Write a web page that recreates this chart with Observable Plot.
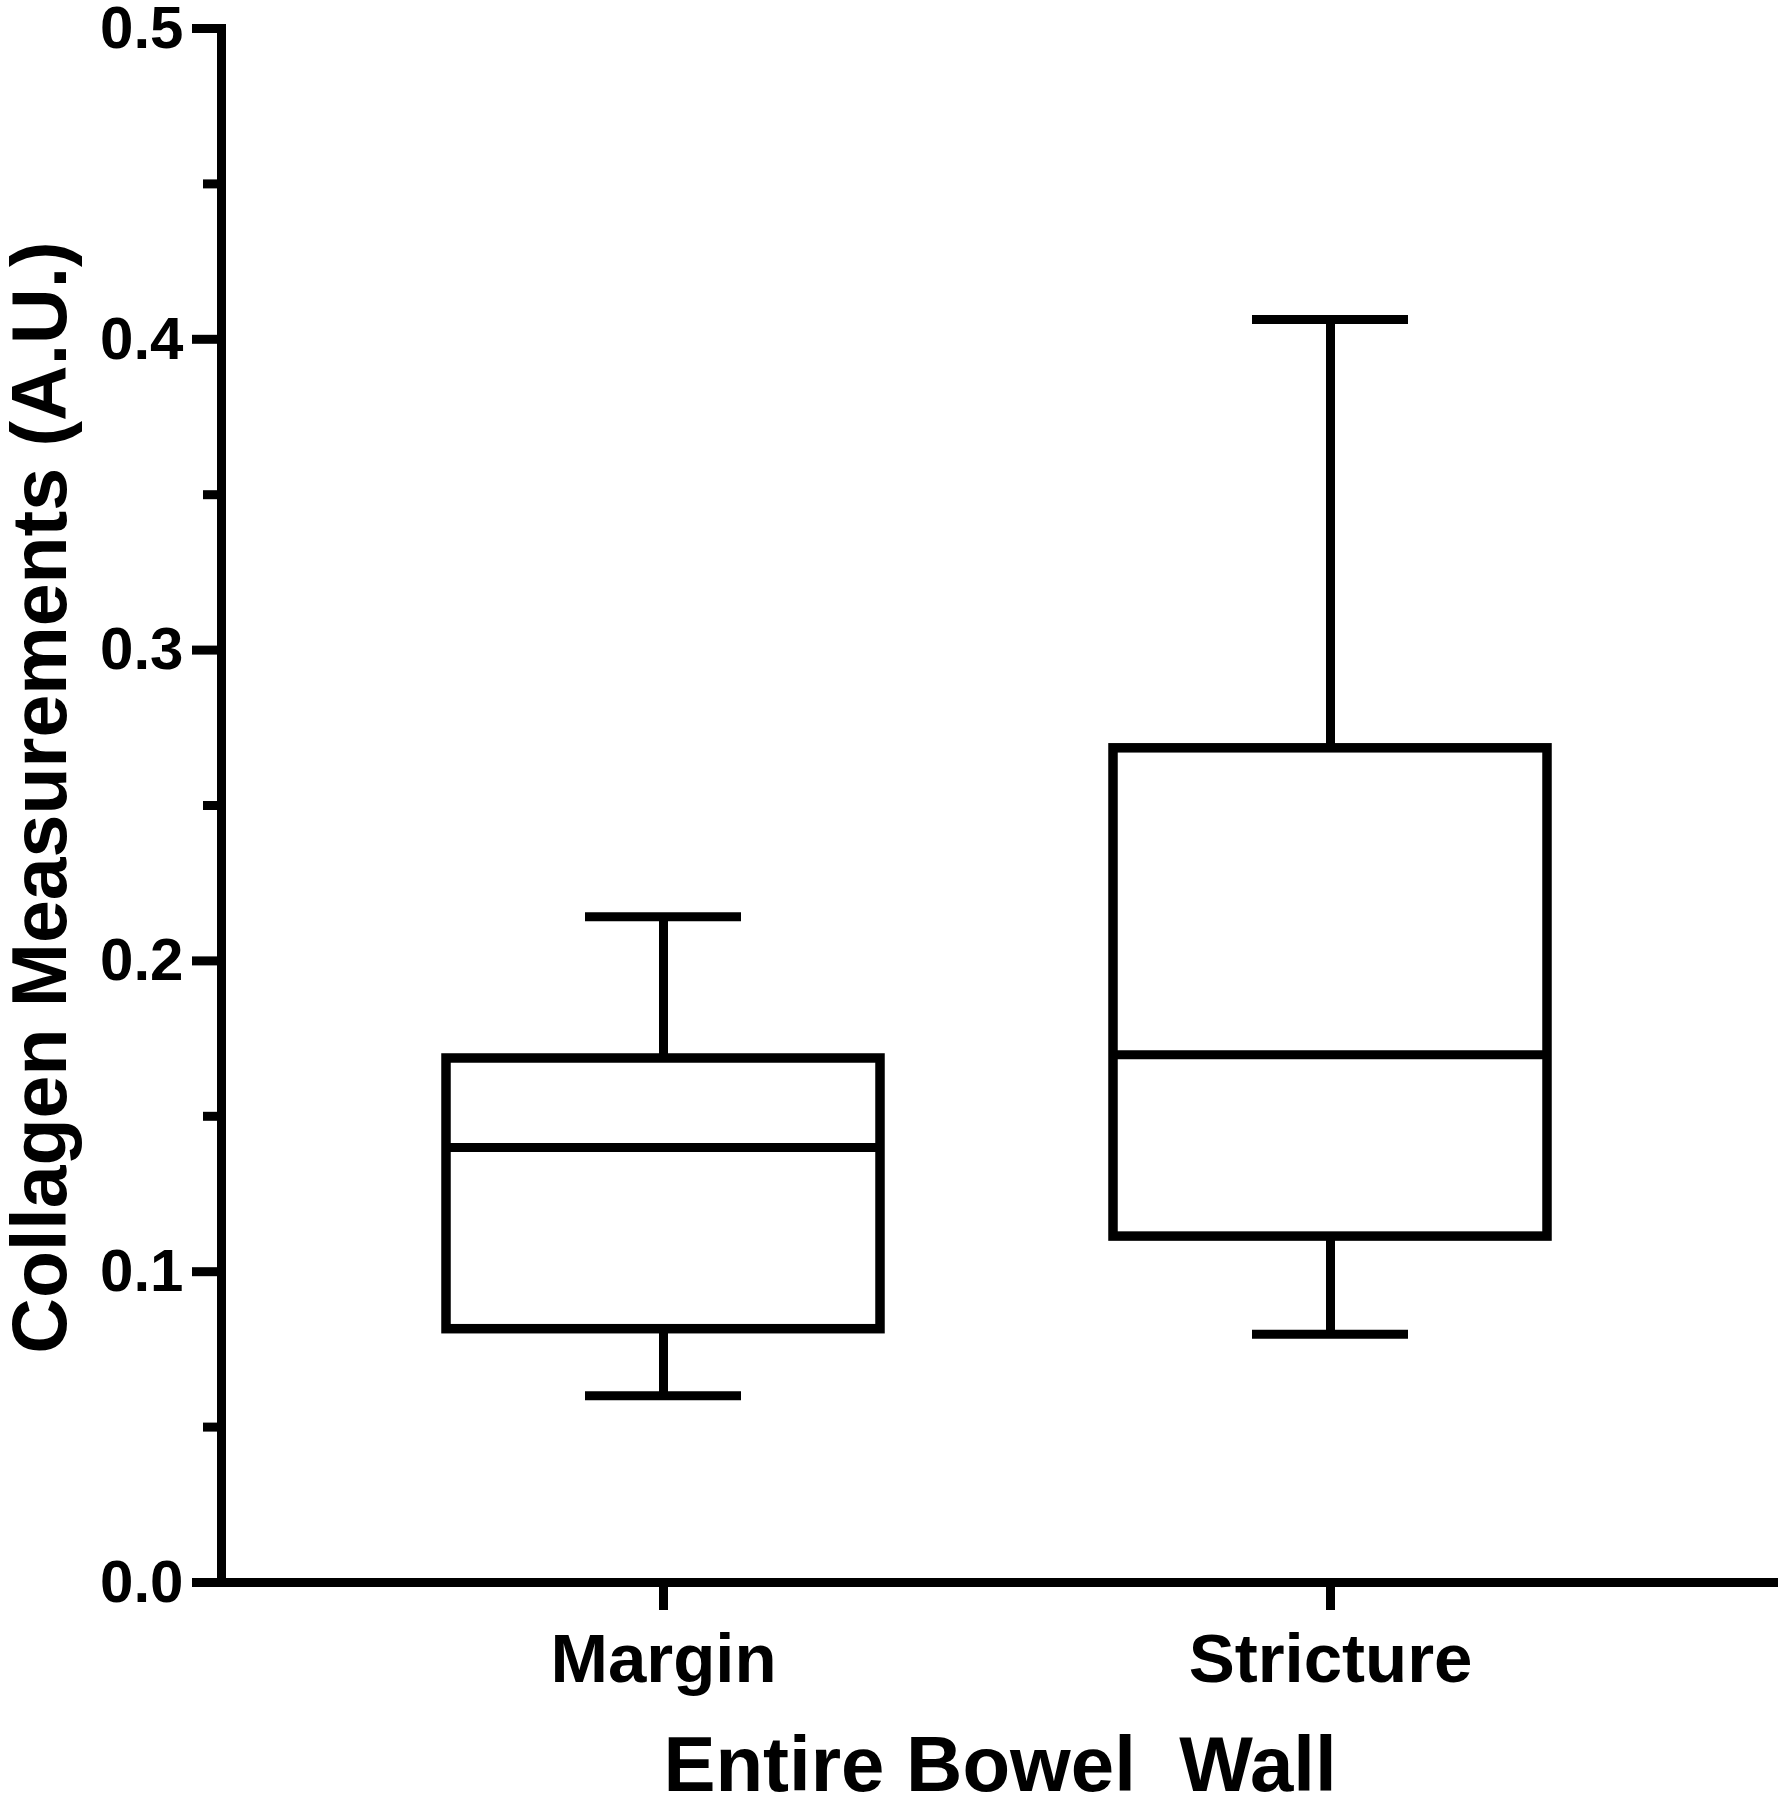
<!DOCTYPE html>
<html><head><meta charset="utf-8">
<script src="https://cdn.jsdelivr.net/npm/d3@7"></script>
<script src="https://cdn.jsdelivr.net/npm/@observablehq/plot@0.6"></script>
<style>body{margin:0;background:#fff}</style>
</head><body><div id="chart"></div>
<script>
const categories = ["Margin", "Stricture"];
const whiskerLow = [0.0601, 0.0799];
const quartile1 = [0.0815, 0.1113];
const medians = [0.1400, 0.1698];
const quartile3 = [0.1686, 0.2684];
const whiskerHigh = [0.2142, 0.4064];
const yTicks = [0, 0.1, 0.2, 0.3, 0.4, 0.5];
const yMinorTicks = [0.05, 0.15, 0.25, 0.35, 0.45];
const yTitle = "Collagen Measurements (A.U.)";
const xTitle = "Entire Bowel\u00a0 Wall";

const rows = categories.map((c, i) => ({group: c, lo: whiskerLow[i], q1: quartile1[i], med: medians[i], q3: quartile3[i], hi: whiskerHigh[i]}));

const SW = 9;
const font = "'Liberation Sans', Arial, Helvetica, sans-serif";
const chart = Plot.plot({
  width: 1786, height: 1800,
  marginLeft: 221, marginRight: 8, marginTop: 28, marginBottom: 218,
  style: {fontFamily: font, fontWeight: "bold", background: "white", color: "black", overflow: "visible"},
  x: {domain: categories, paddingInner: 0.349, paddingOuter: 0.3416, align: 0.494},
  y: {domain: [0, 0.5]},
  marks: [
    Plot.ruleX(rows, {x: "group", y1: "q3", y2: "hi", stroke: "black", strokeWidth: SW}),
    Plot.ruleX(rows, {x: "group", y1: "lo", y2: "q1", stroke: "black", strokeWidth: SW}),
    Plot.tickY(rows, {x: "group", y: "hi", insetLeft: 139, insetRight: 139, stroke: "black", strokeWidth: SW}),
    Plot.tickY(rows, {x: "group", y: "lo", insetLeft: 139, insetRight: 139, stroke: "black", strokeWidth: SW}),
    Plot.barY(rows, {x: "group", y1: "q1", y2: "q3", fill: "white", stroke: "black", strokeWidth: 9.5}),
    Plot.tickY(rows, {x: "group", y: "med", stroke: "black", strokeWidth: SW}),
    Plot.ruleY([0], {stroke: "black", strokeWidth: SW}),
    Plot.frame({anchor: "left", stroke: "black", strokeWidth: SW}),
    Plot.axisY({ticks: yTicks, tickSize: 29, tickPadding: 9, tickFormat: d3.format(".1f"), fontSize: 60, strokeWidth: SW, label: null}),
    Plot.axisY({ticks: yMinorTicks, tickSize: 18, tickFormat: () => "", strokeWidth: SW, label: null}),
    Plot.axisX({tickSize: 28, tickPadding: 22, fontSize: 69, strokeWidth: SW, label: null}),
    Plot.text([yTitle], {frameAnchor: "left", textAnchor: "middle", rotate: -90, dx: -156, dy: -8, lineAnchor: "bottom", fontSize: 77}),
    Plot.text([xTitle], {frameAnchor: "bottom", textAnchor: "middle", dy: 208, lineAnchor: "bottom", fontSize: 78})
  ]
});
document.getElementById("chart").appendChild(chart);
</script>
</body></html>
